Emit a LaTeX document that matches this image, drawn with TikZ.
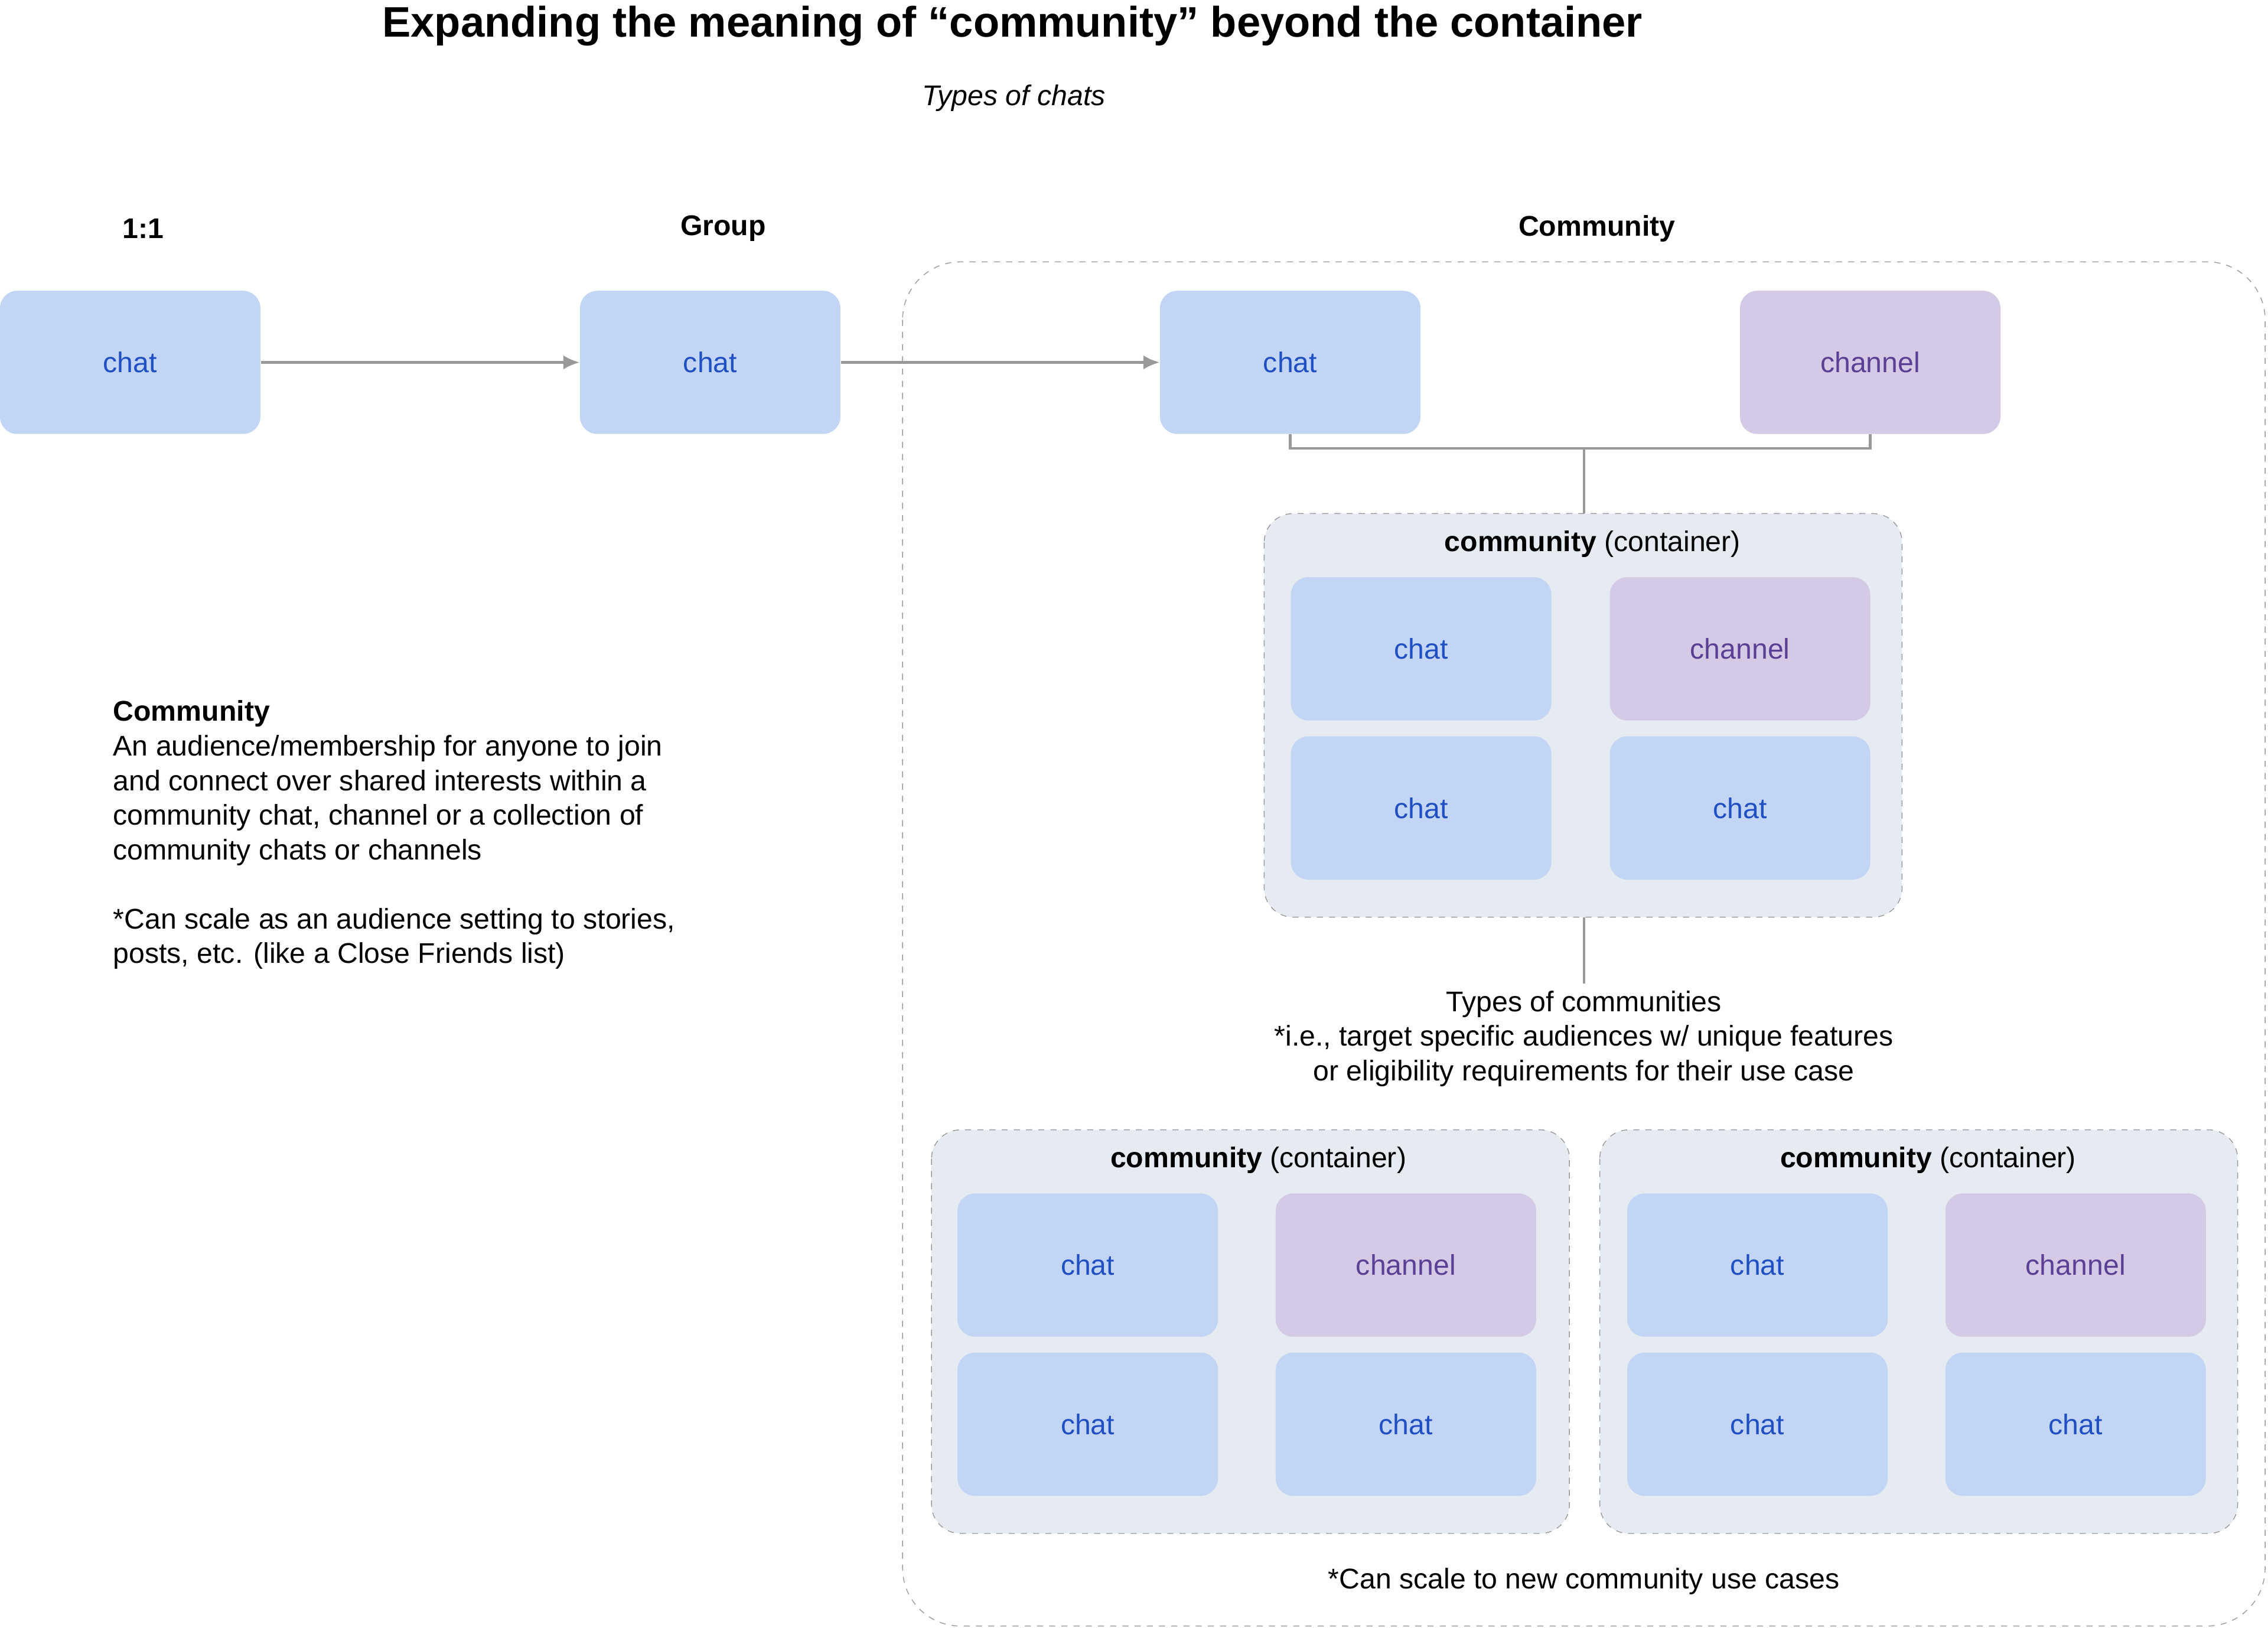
\documentclass[tikz,border=0pt]{standalone}
\usepackage{fontspec}
\usetikzlibrary{arrows.meta}
\setmainfont{Liberation Sans}
\definecolor{chatfill}{HTML}{C3D5F5}
\definecolor{chattext}{HTML}{1F4FC2}
\definecolor{chanfill}{HTML}{D5CAE6}
\definecolor{chantext}{HTML}{5B3F94}
\definecolor{contfill}{HTML}{E6EAF1}
\definecolor{linegray}{HTML}{999999}
\begin{document}
\begin{tikzpicture}[x=0.025cm,y=-0.025cm,
  chatbox/.style={fill=chatfill,text=chattext,rounded corners=0.3cm,minimum width=4.5cm,minimum height=2.475cm,font=\fontsize{14pt}{17pt}\selectfont},
  chanbox/.style={chatbox,fill=chanfill,text=chantext},
  cont/.style={fill=contfill,draw=linegray,dashed,rounded corners=0.5cm},
  lbl/.style={font=\fontsize{14pt}{17pt}\selectfont},
  conn/.style={draw=linegray,line width=1.2pt},
  arr/.style={conn,-{Latex[length=8pt,width=7pt]}}]
\useasboundingbox (0,0) rectangle (1568,1125);
\node[font=\bfseries\fontsize{21pt}{25pt}\selectfont] (title) at (700,18) {Expanding the meaning of “community” beyond the container};
\node[lbl,font=\itshape\fontsize{14pt}{17pt}\selectfont] (sub) at (701,68) {Types of chats};
\node[lbl,font=\bfseries\fontsize{14pt}{17pt}\selectfont] (h1) at (99,158) {1:1};
\node[lbl,font=\bfseries\fontsize{14pt}{17pt}\selectfont] (h2) at (500,158) {Group};
\node[lbl,font=\bfseries\fontsize{14pt}{17pt}\selectfont] (h3) at (1104,158) {Community};
\draw[draw=linegray,dashed,rounded corners=1cm] (624,181) rectangle (1566,1124);
\node[chatbox] (c1) at (90,250.5) {chat};
\node[chatbox] (c2) at (491,250.5) {chat};
\node[chatbox] (c3) at (892,250.5) {chat};
\node[chanbox] (ch) at (1293,250.5) {channel};
\draw[arr] (c1) -- (c2);
\draw[arr] (c2) -- (c3);
% container 1
\draw[cont] (874,355) rectangle (1315,634);
\coordinate (k1top) at (1095,355);
\coordinate (k1bot) at (1095,634);
\coordinate (tx) at (1095,680);
\coordinate (junc) at (1095,310);
\draw[conn] (c3.south) -- (892,310) -- (1293,310) -- (ch.south);
\draw[conn] (junc) -- (k1top);
\draw[conn] (k1bot) -- (tx);
\node[lbl] (k1t) at (1101,376) {\textbf{community} (container)};
\node[chatbox] at (982.5,448.5) (a1) {chat};
\node[chanbox] at (1203,448.5) (a2) {channel};
\node[chatbox] at (982.5,558.5) (a3) {chat};
\node[chatbox] at (1203,558.5) (a4) {chat};
\node[lbl,align=center,anchor=north,font=\fontsize{14pt}{17pt}\selectfont] (types) at (1095,680) {Types of communities\\*i.e., target specific audiences w/ unique features\\or eligibility requirements for their use case};
% container 2
\draw[cont] (644,781) rectangle (1085,1060);
\node[lbl] (k2t) at (870,802) {\textbf{community} (container)};
\node[chatbox] at (752,874.5) (b1) {chat};
\node[chanbox] at (972,874.5) (b2) {channel};
\node[chatbox] at (752,984.5) (b3) {chat};
\node[chatbox] at (972,984.5) (b4) {chat};
% container 3
\draw[cont] (1106,781) rectangle (1547,1060);
\node[lbl] (k3t) at (1333,802) {\textbf{community} (container)};
\node[chatbox] at (1215,874.5) (d1) {chat};
\node[chanbox] at (1435,874.5) (d2) {channel};
\node[chatbox] at (1215,984.5) (d3) {chat};
\node[chatbox] at (1435,984.5) (d4) {chat};
\node[lbl] (scale) at (1095,1093) {*Can scale to new community use cases};
\node[lbl,anchor=north west,align=left,inner sep=0pt,font=\fontsize{14pt}{17pt}\selectfont] (desc) at (78,484) {\textbf{Community}\\An audience/membership for anyone to join\\and connect over shared interests within a\\community chat, channel or a collection of\\community chats or channels\\[17pt]*Can scale as an audience setting to stories,\\posts, etc. (like a Close Friends list)};
\end{tikzpicture}
\end{document}
